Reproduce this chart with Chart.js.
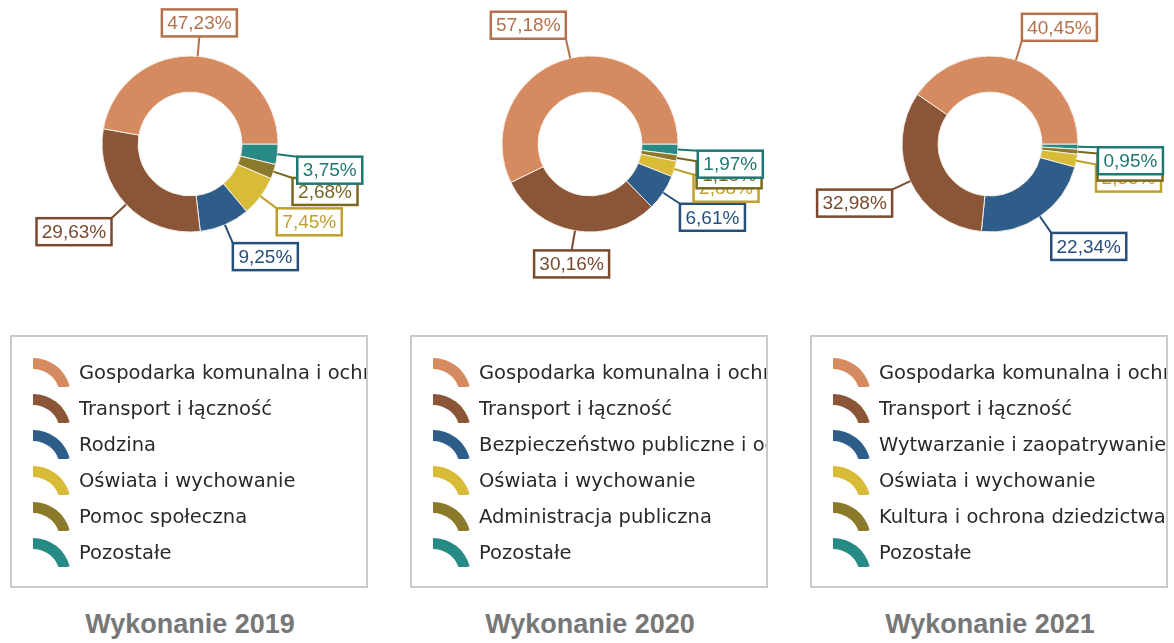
<!DOCTYPE html>
<html lang="pl">
<head>
<meta charset="UTF-8">
<title>Wykonanie wydatków 2019–2021</title>
<script src="https://cdn.jsdelivr.net/npm/chart.js"></script>
<style>
  html, body { margin: 0; padding: 0; background: #fff; }
  body { width: 1174px; height: 643px; overflow: hidden; position: relative; }
  .panel { position: absolute; top: 0; width: 400px; height: 643px; }
  .plot { position: absolute; left: 0; top: 0; width: 400px; height: 300px; }
  .legend {
    position: absolute; left: 10px; top: 335px; width: 358px; height: 253px;
    box-sizing: border-box; border: 2px solid #cbcbcb; overflow: hidden; padding-top: 17px;
  }
  .row {
    height: 36px; display: flex; align-items: center; white-space: nowrap;
    font: 19.5px "DejaVu Sans", Verdana, sans-serif; color: #2a2a2a;
  }
  .row canvas { margin-left: 21px; margin-right: 8px; flex: none; }
  .title {
    position: absolute; left: 0; width: 380px; top: 609px; text-align: center;
    font: bold 27px "Liberation Sans", Arial, sans-serif; color: #777;
  }
</style>
</head>
<body>

<script>
  const titles = ['Wykonanie 2019', 'Wykonanie 2020', 'Wykonanie 2021'];

  const categories2019 = [
    'Gospodarka komunalna i ochrona środowiska',
    'Transport i łączność',
    'Rodzina',
    'Oświata i wychowanie',
    'Pomoc społeczna',
    'Pozostałe'
  ];
  const categories2020 = [
    'Gospodarka komunalna i ochrona środowiska',
    'Transport i łączność',
    'Bezpieczeństwo publiczne i ochrona przeciwpożarowa',
    'Oświata i wychowanie',
    'Administracja publiczna',
    'Pozostałe'
  ];
  const categories2021 = [
    'Gospodarka komunalna i ochrona środowiska',
    'Transport i łączność',
    'Wytwarzanie i zaopatrywanie w energię elektryczną, gaz i wodę',
    'Oświata i wychowanie',
    'Kultura i ochrona dziedzictwa narodowego',
    'Pozostałe'
  ];

  // udział w wydatkach, %
  const values2019 = [47.23, 29.63, 9.25, 7.45, 2.68, 3.75];
  const values2020 = [57.18, 30.16, 6.61, 2.88, 1.18, 1.97];
  const values2021 = [40.45, 32.98, 22.34, 2.35, 0.93, 0.95];

  const sliceColors = ['#d68a5f', '#8b5637', '#2f5d8a', '#d8bb36', '#8c7a2c', '#278a84'];
  const labelColors = ['#b5714b', '#7b4a2e', '#274f7b', '#bfa02e', '#7a6820', '#1e7872'];

  const panels = [
    { title: titles[0], categories: categories2019, values: values2019 },
    { title: titles[1], categories: categories2020, values: values2020 },
    { title: titles[2], categories: categories2021, values: values2021 }
  ];

  // procentowe etykiety w ramkach, z linią od krawędzi pierścienia
  const calloutLabels = {
    id: 'calloutLabels',
    afterDatasetsDraw(chart, args, opts) {
      const ctx = chart.ctx;
      const meta = chart.getDatasetMeta(0);
      const data = chart.data.datasets[0].data;
      ctx.save();
      ctx.font = '19px "Liberation Sans", Arial, sans-serif';
      ctx.textAlign = 'center';
      ctx.textBaseline = 'middle';
      for (let i = meta.data.length - 1; i >= 0; i--) {
        const { x, y, startAngle, endAngle, outerRadius } =
          meta.data[i].getProps(['x', 'y', 'startAngle', 'endAngle', 'outerRadius'], true);
        const mid = (startAngle + endAngle) / 2;
        const cos = Math.cos(mid), sin = Math.sin(mid);
        const ax = x + cos * (outerRadius + 20);
        const ay = y + sin * (outerRadius + 20);
        const text = data[i].toFixed(2).replace('.', ',') + '%';
        const w = Math.round(ctx.measureText(text).width) + 11, h = 27;
        const left = cos > 0.2 ? ax : cos < -0.2 ? ax - w : ax - w / 2;
        const top = sin >= 0 ? ay : ay - h;
        const color = opts.colors[i];

        ctx.strokeStyle = color;
        ctx.lineWidth = 2;
        ctx.beginPath();
        ctx.moveTo(x + cos * outerRadius, y + sin * outerRadius);
        ctx.lineTo(ax, ay);
        ctx.stroke();

        ctx.lineWidth = 2.5;
        ctx.fillStyle = '#fff';
        ctx.fillRect(left, top, w, h);
        ctx.strokeRect(left, top, w, h);
        ctx.fillStyle = color;
        ctx.fillText(text, left + w / 2, top + h / 2 + 1);
      }
      ctx.restore();
    }
  };

  function drawIcon(canvas, color) {
    const c = canvas.getContext('2d');
    c.fillStyle = color;
    c.beginPath();
    c.arc(0, 38, 38, -Math.PI / 2, -Math.PI / 12);
    c.arc(0, 38, 27, -Math.PI / 12, -Math.PI / 2, true);
    c.closePath();
    c.fill();
  }

  panels.forEach((p, k) => {
    const panel = document.createElement('div');
    panel.className = 'panel';
    panel.style.left = (k * 400) + 'px';
    panel.innerHTML = '<div class="plot"><canvas></canvas></div><div class="legend"></div><div class="title"></div>';
    document.body.appendChild(panel);

    panel.querySelector('.title').textContent = p.title;

    const legend = panel.querySelector('.legend');
    p.categories.forEach((name, i) => {
      const row = document.createElement('div');
      row.className = 'row';
      const icon = document.createElement('canvas');
      icon.width = 38; icon.height = 29;
      drawIcon(icon, sliceColors[i]);
      const label = document.createElement('span');
      label.textContent = name;
      row.appendChild(icon);
      row.appendChild(label);
      legend.appendChild(row);
    });

    // kolejność rysowania: od "Pozostałe" zgodnie z ruchem wskazówek, start na godz. 3
    const order = p.values.map((_, i) => i).reverse();

    new Chart(panel.querySelector('canvas'), {
      type: 'doughnut',
      data: {
        labels: order.map(i => p.categories[i]),
        datasets: [{
          data: order.map(i => p.values[i]),
          backgroundColor: order.map(i => sliceColors[i]),
          borderColor: '#f3ece4',
          borderWidth: 1
        }]
      },
      options: {
        responsive: true,
        maintainAspectRatio: false,
        animation: false,
        rotation: 90,
        radius: 88,
        cutout: '59%',
        layout: { padding: { left: 0, right: 20, top: 0, bottom: 12 } },
        plugins: {
          legend: { display: false },
          tooltip: { enabled: false },
          calloutLabels: { colors: order.map(i => labelColors[i]) }
        }
      },
      plugins: [calloutLabels]
    });
  });
</script>
</body>
</html>
